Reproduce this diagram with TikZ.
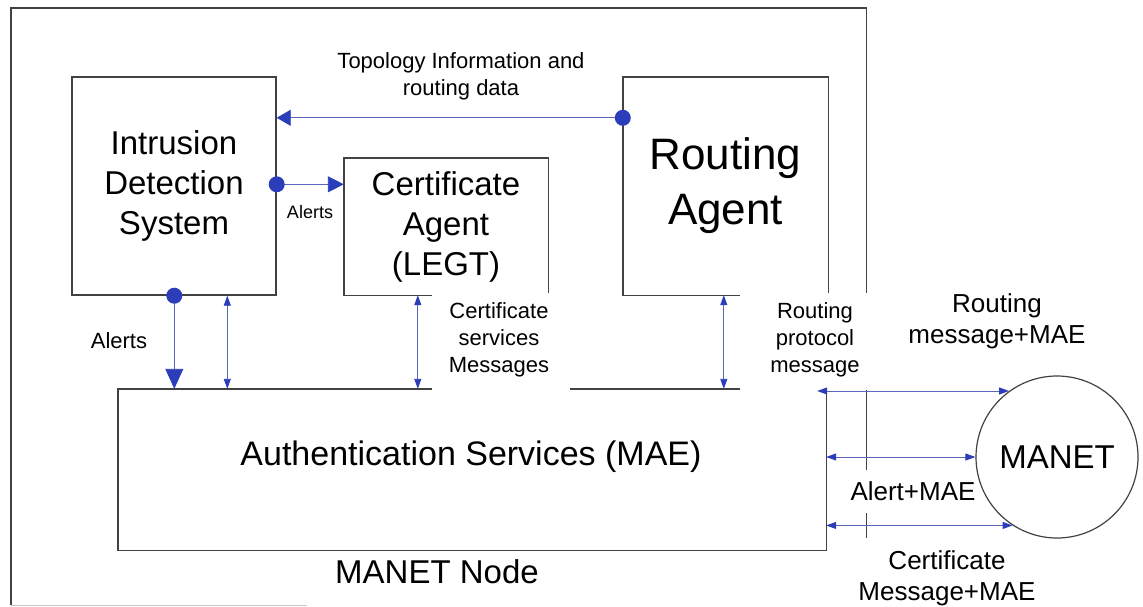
\documentclass[tikz,border=0pt]{standalone}
\usepackage{fontspec}
\setmainfont{Liberation Sans}
\usetikzlibrary{arrows.meta,calc}
\definecolor{boxline}{HTML}{424242}
\definecolor{faint}{HTML}{C8C8C8}
\definecolor{dotblue}{HTML}{2B3DB8}
\definecolor{arrline}{HTML}{5A66B8}
\tikzset{
  frame/.style={draw=boxline, line width=1.4pt},
  blk/.style={inner sep=0pt, align=center},
  conn/.style={draw=arrline, line width=0.9pt},
  dbl/.style={conn, {Triangle[length=10pt,width=7pt,color=dotblue]}-{Triangle[length=10pt,width=7pt,color=dotblue]}},
  bigtxt/.style={font=\fontsize{33}{40}\selectfont, align=center},
  authfont/.style={font=\fontsize{34}{40}\selectfont, align=center},
  hugetxt/.style={font=\fontsize{44}{55}\selectfont, align=center},
  smalltxt/.style={font=\fontsize{22}{27}\selectfont, align=center},
  midtxt/.style={font=\fontsize{26}{31}\selectfont, align=center},
  tinytxt/.style={font=\fontsize{18}{22}\selectfont, align=center},
}
\begin{document}
\begin{tikzpicture}[x=1pt,y=-1pt]
\useasboundingbox[fill=white] (0,0) rectangle (1143,606);

% containers and boxes
\node[blk, minimum width=855pt, minimum height=597pt] (outer) at (438.5,306.5) {};
\node[blk, bigtxt, frame, minimum width=204pt, minimum height=218pt] (ids) at (174,186) {Intrusion\\Detection\\System};
\node[blk, bigtxt, minimum width=204pt, minimum height=137pt] (cert) at (446,226.5) {Certificate\\Agent\\(LEGT)};
\node[blk, hugetxt, minimum width=205pt, minimum height=218pt] (ra) at (725.5,186) {Routing\\Agent};
\node[blk, minimum width=708pt, minimum height=161pt] (auth) at (472,469.5) {};
\node[authfont] (authtxt) at (471,457) {Authentication Services (MAE)};
\node[circle, draw=boxline, line width=1.2pt, minimum size=162pt, inner sep=0pt, bigtxt] (manet) at (1057,457) {MANET};

% partial outlines
\draw[faint, line width=1.2pt] ($(outer.south west)+(296,0)$) -- (outer.south west);
\draw[frame] (outer.south west) -- (outer.north west) -- (outer.north east) -- ($(outer.north east)+(0,285)$);
\draw[frame] ($(outer.north east)+(0,382)$) -- ($(outer.north east)+(0,462)$);
\draw[frame] ($(outer.north east)+(0,505)$) -- ($(outer.north east)+(0,530)$);
\draw[frame] ($(cert.south west)+(88,0)$) -- (cert.south west) -- (cert.north west) -- (cert.north east) -- ($(cert.south east)+(0,-2)$);
\draw[frame] ($(ra.south west)+(117,0)$) -- (ra.south west) -- (ra.north west) -- (ra.north east) -- ($(ra.south east)+(0,-2)$);
\draw[frame] ($(auth.north west)+(314,0)$) -- (auth.north west) -- (auth.south west) -- (auth.south east) -- (auth.north east);
\draw[frame] ($(auth.north west)+(452,0)$) -- ($(auth.north west)+(622,0)$);

% labels
\node[smalltxt] (topotxt) at (461,76) {Topology Information and\\routing data};
\node[tinytxt] (al1) at (310,212) {Alerts};
\node[smalltxt] (al2) at (119,341) {Alerts};
\node[smalltxt] (csm) at (499,340) {Certificate\\services\\Messages};
\node[smalltxt] (rpm) at (815,340) {Routing\\protocol\\message};
\node[midtxt] (rmm) at (997,321) {Routing\\message+MAE};
\node[midtxt] (amae) at (913,491) {Alert+MAE};
\node[midtxt] (cmm) at (947,578) {Certificate\\Message+MAE};
\node[bigtxt] (mntxt) at (437,572) {MANET Node};

% connector anchor points
\coordinate (t1) at ($(ra.north west)+(0,41)$);
\coordinate (a1) at ($(ids.north east)+(0,108)$);
\coordinate (a2) at ($(ids.south west)+(103,0)$);
\coordinate (d1) at ($(ids.south west)+(156,0)$);
\coordinate (d2) at ($(cert.south west)+(74,0)$);
\coordinate (d3) at ($(ra.south west)+(101,0)$);
\coordinate (h1) at ($(manet.126 -| auth.east)+(-9,0)$);

% connectors
\draw[conn, -{Triangle[length=14pt,width=16pt,color=dotblue]}] (t1) -- (t1 -| ids.east);
\fill[dotblue] (t1) circle (8pt);
\draw[conn, -{Triangle[length=16pt,width=16pt,color=dotblue]}] (a1) -- (a1 -| cert.west);
\fill[dotblue] (a1) circle (8pt);
\draw[conn, -{Triangle[length=20pt,width=18pt,color=dotblue]}] (a2) -- (a2 |- auth.north);
\fill[dotblue] (a2) circle (8pt);
\draw[dbl] (d1) -- (d1 |- auth.north);
\draw[dbl] (d2) -- (d2 |- auth.north);
\draw[dbl] (d3) -- (d3 |- auth.north);
\draw[dbl] (h1) -- (manet.126);
\draw[dbl] (manet.west -| auth.east) -- (manet.west);
\draw[dbl] (manet.237 -| auth.east) -- (manet.237);
\end{tikzpicture}
\end{document}
